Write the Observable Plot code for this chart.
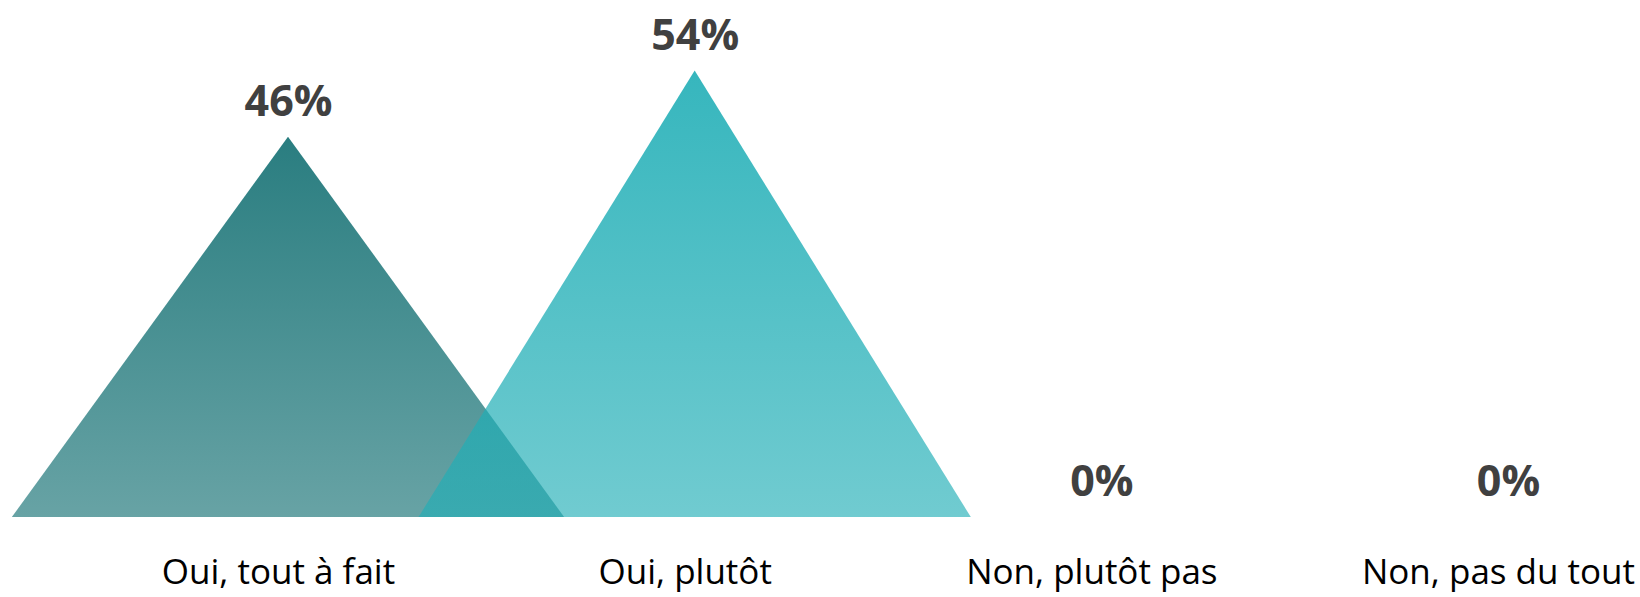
<!DOCTYPE html>
<html>
<head>
<meta charset="utf-8">
<script src="https://cdn.jsdelivr.net/npm/d3@7"></script>
<script src="https://cdn.jsdelivr.net/npm/@observablehq/plot@0.6"></script>
<style>
  html, body { margin: 0; padding: 0; background: #fff; }
  #chart { width: 1640px; height: 597px; }
</style>
</head>
<body>
<div id="chart"></div>
<script>
const categories = ["Oui, tout à fait", "Oui, plutôt", "Non, plutôt pas", "Non, pas du tout"];
const values = [46, 54, 0, 0];
const valueLabels = ["46%", "54%", "0%", "0%"];
const baseColors = ["#126f72", "#20aeb6", "#20aeb6", "#20aeb6"];

const halfWidth = 0.679;

const rows = categories.map((c, i) => ({i, c, v: values[i], label: valueLabels[i]}));
const tri = rows.flatMap(r => [
  {i: r.i, x: r.i - halfWidth, y: 0},
  {i: r.i, x: r.i, y: r.v},
  {i: r.i, x: r.i + halfWidth, y: 0}
]);

const defsMark = () => {
  const g = d3.create("svg:g");
  const defs = g.append("defs");
  rows.forEach(r => {
    const lg = defs.append("linearGradient")
      .attr("id", "tri" + r.i)
      .attr("x1", 0).attr("y1", 0).attr("x2", 0).attr("y2", 1);
    lg.append("stop").attr("offset", "0%").attr("stop-color", baseColors[r.i]).attr("stop-opacity", 0.9);
    lg.append("stop").attr("offset", "100%").attr("stop-color", baseColors[r.i]).attr("stop-opacity", 0.64);
  });
  return g.node();
};

const chart = Plot.plot({
  width: 1640,
  height: 597,
  marginLeft: 288,
  marginRight: 132,
  marginTop: 21,
  marginBottom: 80,
  x: {domain: [0, 3], axis: null},
  y: {domain: [0, 60], axis: null},
  style: {background: "#fff", overflow: "visible"},
  marks: [
    defsMark,
    ...rows.filter(r => r.v > 0).map(r =>
      Plot.areaY(tri.filter(d => d.i === r.i), {x: "x", y: "y", fill: `url(#tri${r.i})`, curve: "linear"})
    ),
    Plot.text(rows, {
      x: "i", y: "v", text: "label", dy: -35, lineAnchor: "middle",
      fontSize: 43, fontWeight: "bold", fill: "#404040",
      fontFamily: "'Open Sans', sans-serif"
    }),
    Plot.text(rows, {
      x: "i", y: 0, text: "c", dy: 55, dx: -10, lineAnchor: "middle",
      fontSize: 35, fill: "#000",
      fontFamily: "'Open Sans', sans-serif"
    })
  ]
});
document.getElementById("chart").appendChild(chart);
</script>
</body>
</html>
